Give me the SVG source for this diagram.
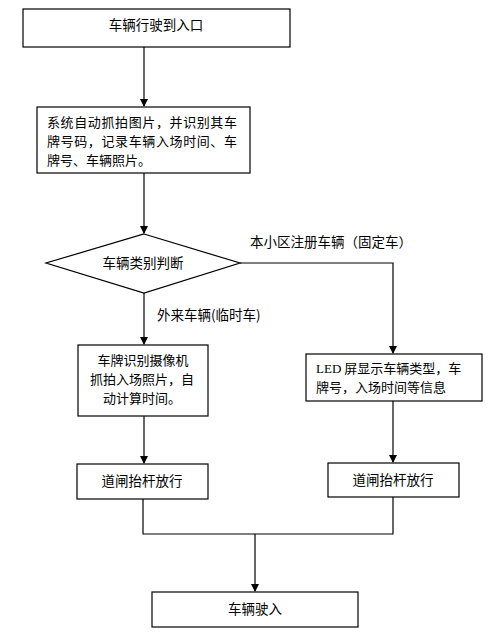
<svg xmlns="http://www.w3.org/2000/svg" width="496" height="636" viewBox="0 0 496 636">
<defs>
<marker id="ah" markerWidth="8" markerHeight="8" refX="7" refY="4" orient="auto" markerUnits="userSpaceOnUse">
<path d="M0,0 L8,4 L0,8 Z" fill="#000"/>
</marker>
<style>
.box{fill:#fff;stroke:#000;stroke-width:1.2}
.t{font-family:"Noto Sans CJK SC","Noto Sans CJK JP",sans-serif;font-size:13px;fill:#000}
.big{font-size:13.5px}
.c{text-anchor:middle}
.ln{fill:none;stroke:#000;stroke-width:1.2}
.arr{fill:none;stroke:#000;stroke-width:1.2;marker-end:url(#ah)}
</style>
</defs>
<rect width="496" height="636" fill="#fff"/>
<g id="connectors">
<line class="arr" x1="144" y1="47" x2="144" y2="106"/>
<line class="arr" x1="144" y1="173" x2="144" y2="233"/>
<polyline class="arr" points="240,263 393,263 393,353"/>
<line class="arr" x1="144" y1="293" x2="144" y2="344"/>
<line class="arr" x1="144" y1="416" x2="144" y2="463"/>
<line class="arr" x1="393" y1="401" x2="393" y2="462"/>
<polyline class="ln" points="143,499 143,534 393,534 393,497"/>
<line class="arr" x1="255" y1="534" x2="255" y2="591"/>
<text class="t big" x="250" y="247">本小区注册车辆（固定车）</text>
<text class="t big" x="157" y="320">外来车辆(临时车)</text>
</g>
<g id="n1">
<rect class="box" x="23" y="9" width="267" height="38"/>
<text class="t big c" x="156" y="30">车辆行驶到入口</text>
</g>
<g id="n2">
<rect class="box" x="37" y="107" width="213" height="66"/>
<text class="t" x="47" y="127" textLength="190" lengthAdjust="spacing">系统自动抓拍图片，并识别其车</text>
<text class="t" x="47" y="146" textLength="190" lengthAdjust="spacing">牌号码，记录车辆入场时间、车</text>
<text class="t" x="47" y="165">牌号、车辆照片。</text>
</g>
<g id="n3">
<polygon class="box" points="144,234 240,263 144,293 46,263"/>
<text class="t big c" x="143" y="268">车辆类别判断</text>
</g>
<g id="n4">
<rect class="box" x="78" y="345" width="130" height="71"/>
<text class="t c" x="143" y="365">车牌识别摄像机</text>
<text class="t c" x="142" y="384">抓拍入场照片，自</text>
<text class="t c" x="142" y="403">动计算时间。</text>
</g>
<g id="n5">
<rect class="box" x="306" y="354" width="176" height="47"/>
<text class="t" x="316" y="373"><tspan font-family="Liberation Serif, serif">LED</tspan> 屏显示车辆类型，车</text>
<text class="t" x="316" y="392">牌号，入场时间等信息</text>
</g>
<g id="n6">
<rect class="box" x="77" y="464" width="131" height="35"/>
<text class="t big c" x="142" y="486">道闸抬杆放行</text>
</g>
<g id="n7">
<rect class="box" x="328" y="463" width="131" height="34"/>
<text class="t big c" x="393" y="485">道闸抬杆放行</text>
</g>
<g id="n8">
<rect class="box" x="152" y="592" width="206" height="35"/>
<text class="t big c" x="255" y="614">车辆驶入</text>
</g>
</svg>
